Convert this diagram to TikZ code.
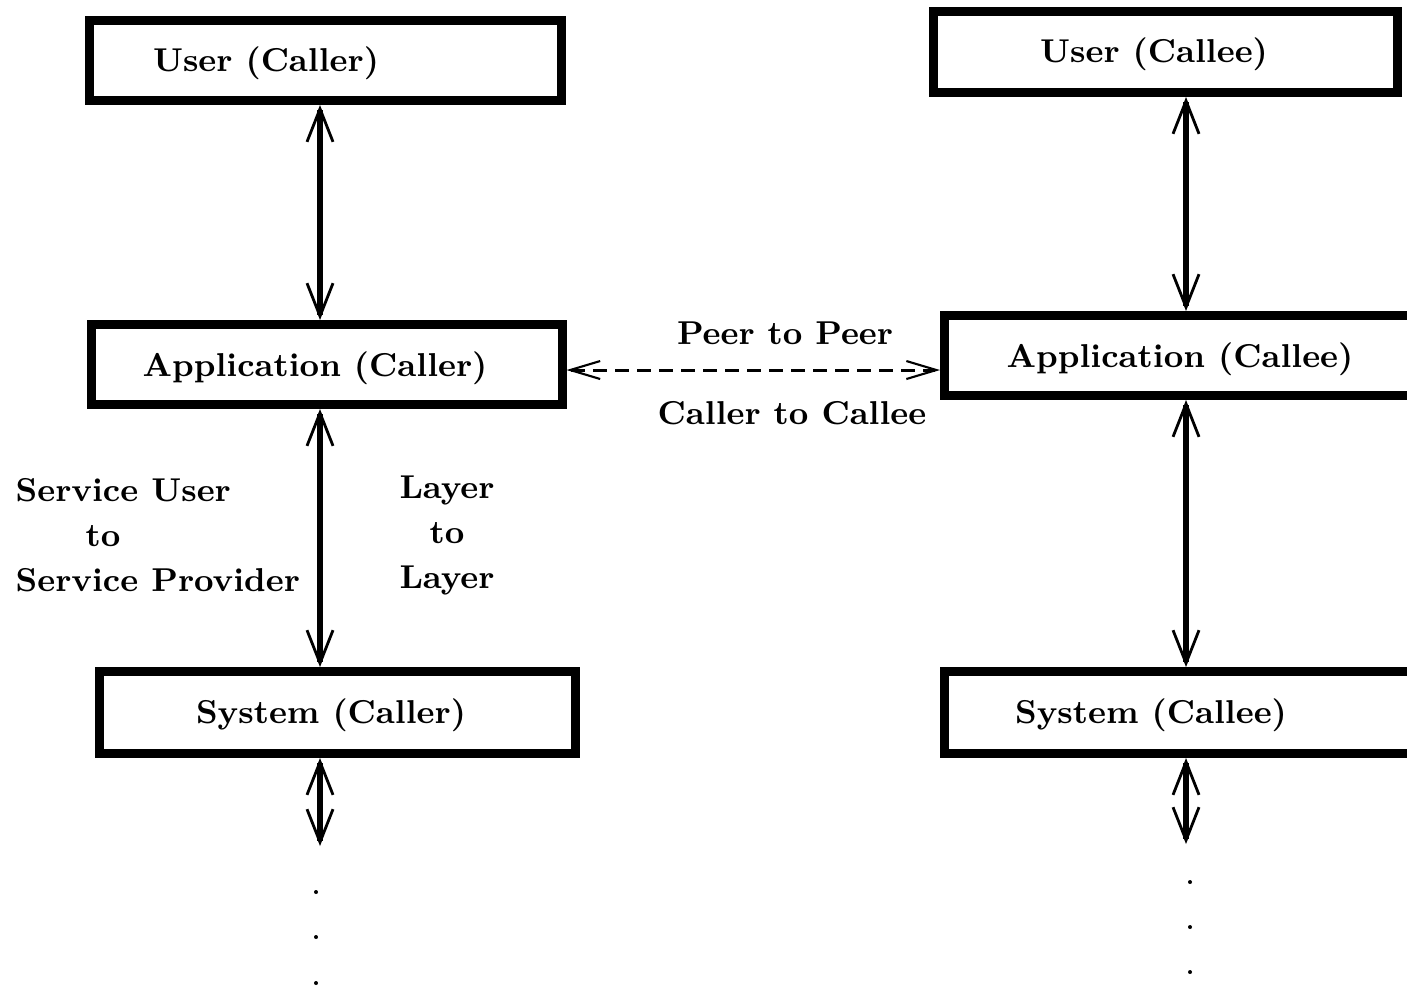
\documentclass[tikz,border=0pt]{standalone}
\usepackage{amsmath}
\usepackage{tikz}
\usetikzlibrary{arrows.meta,positioning}

\tikzset{
  layer/.style={draw, line width=0.09cm, inner sep=0pt, minimum height=0.80cm},
  lbl/.style={font=\fontsize{9.4}{12.8}\selectfont\bfseries, inner sep=0pt},
  vlink/.style={line width=0.065cm, >={Straight Barb[length=0.33cm,width=0.26cm,line width=0.8pt]}, <->},
  peer/.style={line width=0.03cm, dash pattern=on 0.14cm off 0.08cm, >={Straight Barb[length=0.30cm,width=0.18cm,line width=0.6pt]}, <->}
}

\begin{document}
\begin{tikzpicture}
    \path[use as bounding box, clip] (0,0) rectangle (14.07,-9.86);

    % Caller side
    \node[layer, minimum width=4.72cm] (uc) at (3.255,-0.605) {};
    \node[layer, minimum width=4.71cm] (ac) at (3.265,-3.645) {};
    \node[layer, minimum width=4.76cm, minimum height=0.82cm] (sc) at (3.375,-7.125) {};
    \node[lbl] (uctext) at (2.66,-0.63) {User (Caller)};
    \node[lbl] (actext) at (3.15,-3.68) {Application (Caller)};
    \node[lbl] (sctext) at (3.31,-7.15) {System (Caller)};

    % Callee side
    \node[layer, minimum width=4.64cm, minimum height=0.81cm] (ue) at (11.655,-0.52) {};
    \node[layer, minimum width=4.81cm] (ae) at (11.85,-3.555) {};
    \node[layer, minimum width=4.81cm, minimum height=0.82cm] (se) at (11.85,-7.125) {};
    \node[lbl] (uetext) at (11.54,-0.54) {User (Callee)};
    \node[lbl] (aetext) at (11.80,-3.59) {Application (Callee)};
    \node[lbl] (setext) at (11.51,-7.15) {System (Callee)};

    % Layer to layer links
    \coordinate (lcol) at (3.20,0);
    \coordinate (rcol) at (11.86,0);
    \coordinate (lend) at (3.20,-8.46);
    \coordinate (rend) at (11.86,-8.44);
    \draw[vlink] (uc.south -| lcol) -- (ac.north -| lcol);
    \draw[vlink] (ac.south -| lcol) -- (sc.north -| lcol);
    \draw[vlink] (sc.south -| lcol) -- (lend);
    \draw[vlink] (ue.south -| rcol) -- (ae.north -| rcol);
    \draw[vlink] (ae.south -| rcol) -- (se.north -| rcol);
    \draw[vlink] (se.south -| rcol) -- (rend);

    % More layers below
    \foreach \y in {8.92,9.37,9.83}
        \fill (3.16,-\y) circle (0.02);
    \foreach \y in {8.82,9.27,9.72}
        \fill (11.90,-\y) circle (0.02);

    % Peer to peer link
    \coordinate (pline) at (0,-3.70);
    \draw[peer] (ac.east |- pline) -- (ae.west |- pline);
    \node[lbl] (p2p) at (7.85,-3.33) {Peer to Peer};
    \node[lbl] (c2c) at (7.92,-4.13) {Caller to Callee};

    % Annotations
    \node[lbl, align=left, anchor=west] (sup) at (0.15,-5.35) {Service User\\\hspace*{0.7cm}to\\Service Provider};
    \node[lbl, align=center] (l2l) at (4.47,-5.35) {Layer\\to\\Layer};
\end{tikzpicture}
\end{document}
